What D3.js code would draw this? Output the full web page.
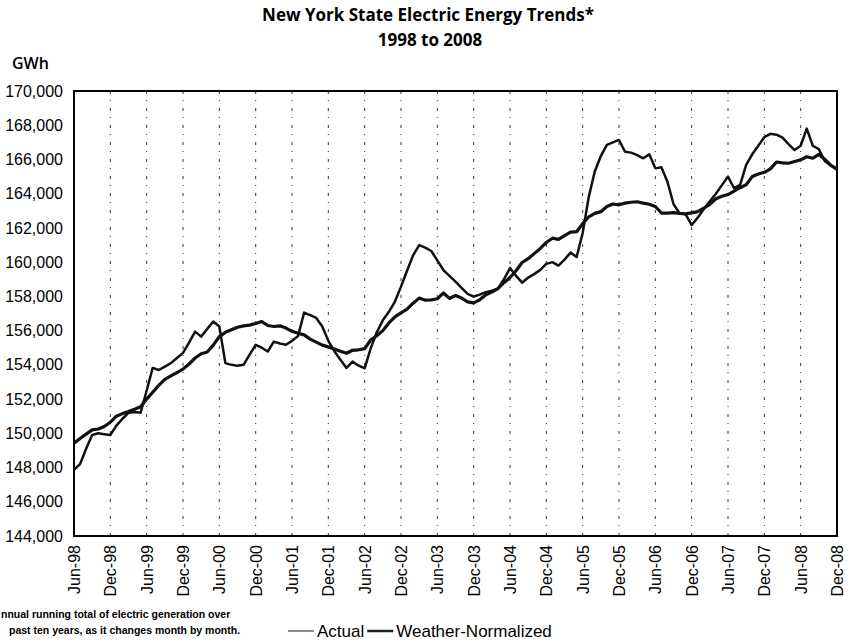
<!DOCTYPE html>
<html lang="en">
<head>
<meta charset="utf-8">
<title>NY State Electric Energy Trends</title>
<script src="https://d3js.org/d3.v7.min.js"></script>
<style>
  body { margin: 0; background: #fff; }
  svg text { font-family: "Liberation Sans", Arial, sans-serif; fill: #000; }
  .title { font-family: "Open Sans", sans-serif; font-weight: 700; font-size: 17px; }
</style>
</head>
<body>
<script>
// chart data (GWh, 12-month running total), monthly Jun-98 .. Dec-08
var actual = [
  147870, 148200, 149100, 149900, 150000, 149950, 149900, 150450, 150850, 151200, 151250, 151200,
  152500, 153820, 153700, 153900, 154100, 154400, 154700, 155300, 155940, 155650, 156100, 156530,
  156240, 154100, 154000, 153950, 154000, 154600, 155170, 155000, 154780, 155360, 155250, 155170,
  155400, 155690, 157050, 156900, 156740, 156240, 155400, 154800, 154300, 153820, 154190, 153950,
  153800, 154970, 155900, 156600, 157100, 157700, 158570, 159500, 160400, 161000, 160850, 160650,
  160100, 159540, 159200, 158860, 158500, 158150, 157990, 158100, 158250, 158330, 158450, 159000,
  159650, 159200, 158800, 159100, 159300, 159550, 159900, 160000, 159800, 160150, 160560, 160300,
  161700, 163800, 165300, 166200, 166850, 167000, 167140, 166450, 166400, 166250, 166070, 166300,
  165480, 165540, 164700, 163400, 162850, 162800, 162170, 162600, 163100, 163550, 164000, 164500,
  165000, 164320, 164510, 165680, 166300, 166800, 167300, 167500, 167450, 167270, 166900, 166550,
  166800, 167800, 166800, 166600, 165900, 165650, 165400
];
var weatherNormalized = [
  149420, 149700, 149950, 150200, 150250, 150400, 150650, 151000, 151150, 151270, 151400, 151550,
  152000, 152400, 152800, 153150, 153350, 153550, 153750, 154050, 154400, 154650, 154750, 155150,
  155650, 155900, 156050, 156200, 156280, 156320, 156420, 156530, 156300, 156240, 156280, 156150,
  155960, 155850, 155750, 155500, 155330, 155150, 155050, 154930, 154800, 154680, 154850, 154880,
  154950, 155450, 155700, 156000, 156450, 156800, 157040, 157250, 157600, 157900, 157780, 157800,
  157860, 158200, 157880, 158050, 157900, 157680, 157620, 157800, 158100, 158250, 158450, 158800,
  159100, 159500, 159980, 160200, 160500, 160800, 161150, 161400, 161330, 161550, 161750, 161780,
  162250, 162650, 162850, 162950, 163250, 163400, 163350, 163450, 163500, 163530, 163450, 163380,
  163250, 162870, 162870, 162890, 162850, 162820, 162880, 162950, 163150, 163380, 163700, 163850,
  163950, 164150, 164350, 164520, 165000, 165150, 165250, 165450, 165850, 165800, 165780, 165880,
  165980, 166160, 166070, 166300, 166000, 165650, 165430
];
// x-axis labels, one every 6 months starting at the first month
var tickLabels = ["Jun-98","Dec-98","Jun-99","Dec-99","Jun-00","Dec-00","Jun-01","Dec-01",
  "Jun-02","Dec-02","Jun-03","Dec-03","Jun-04","Dec-04","Jun-05","Dec-05","Jun-06","Dec-06",
  "Jun-07","Dec-07","Jun-08","Dec-08"];
var yTicks = [144000,146000,148000,150000,152000,154000,156000,158000,160000,162000,164000,166000,168000,170000];
var seriesNames = ["Actual", "Weather-Normalized"];
// footnote as it shows in the scan (its left edge is cut off by the page)
var footLines = ["nnual running total of electric generation over",
  "past ten years, as it changes month by month."];

var w = 851, h = 644;
var margin = {top: 91, right: 14, bottom: 108, left: 74};
var iw = w - margin.left - margin.right;
var ih = h - margin.top - margin.bottom;

var svg = d3.select("body").append("svg")
  .attr("width", w)
  .attr("height", h);

// title
svg.append("text").attr("class", "title")
  .attr("x", 428).attr("y", 21).attr("text-anchor", "middle")
  .text("New York State Electric Energy Trends*");
svg.append("text").attr("class", "title")
  .attr("x", 430).attr("y", 46).attr("text-anchor", "middle")
  .text("1998 to 2008");
svg.append("text")
  .attr("x", 12).attr("y", 69)
  .style("font-family", "'Open Sans', sans-serif")
  .style("font-weight", 600).style("font-size", "16px")
  .text("GWh");

var g = svg.append("g").attr("transform", "translate(" + margin.left + "," + margin.top + ")");

var x = d3.scaleLinear().domain([0, actual.length - 1]).range([0, iw]);
var y = d3.scaleLinear().domain([144000, 170000]).range([ih, 0]);

// broken vertical grid at each label month
g.append("g").selectAll("line")
  .data(tickLabels.slice(1, -1))
  .enter().append("line")
  .attr("x1", function(d, i) { return x((i + 1) * 6); })
  .attr("x2", function(d, i) { return x((i + 1) * 6); })
  .attr("y1", 0).attr("y2", ih)
  .attr("stroke", "#333")
  .attr("stroke-width", 1)
  .attr("stroke-dasharray", "3,6,1,7");

// y axis
var yAxis = g.append("g")
  .call(d3.axisLeft(y).tickValues(yTicks).tickSize(0).tickPadding(11).tickFormat(d3.format(",")));
yAxis.select(".domain").remove();
yAxis.selectAll("text").style("font-size", "16px");

// x axis
var xAxis = g.append("g")
  .attr("transform", "translate(0," + ih + ")")
  .call(d3.axisBottom(x)
    .tickValues(d3.range(tickLabels.length).map(function(i) { return i * 6; }))
    .tickSize(0)
    .tickFormat(function(d) { return tickLabels[d / 6]; }));
xAxis.select(".domain").remove();
xAxis.selectAll("text")
  .style("font-size", "16px")
  .attr("transform", "rotate(-90)")
  .attr("text-anchor", "end")
  .attr("x", -9).attr("y", 0).attr("dy", "0.35em");

// plot frame
g.append("rect")
  .attr("width", iw).attr("height", ih)
  .attr("fill", "none").attr("stroke", "#000").attr("stroke-width", 2);

var line = d3.line()
  .x(function(d, i) { return x(i); })
  .y(function(d) { return y(d); });

g.append("path").datum(weatherNormalized)
  .attr("d", line).attr("fill", "none")
  .attr("stroke", "#111").attr("stroke-width", 3.2).attr("stroke-linejoin", "round");
g.append("path").datum(actual)
  .attr("d", line).attr("fill", "none")
  .attr("stroke", "#111").attr("stroke-width", 2.5).attr("stroke-linejoin", "round");

// footnote
var foot = svg.append("g")
  .style("font-size", "10.5px").style("font-weight", "bold");
foot.append("text").attr("x", 1).attr("y", 618).text(footLines[0]);
foot.append("text").attr("x", 9).attr("y", 634).text(footLines[1]);

// legend
var leg = svg.append("g").attr("transform", "translate(288,631)");
var lx = 0;
seriesNames.forEach(function(name, i) {
  leg.append("line")
    .attr("x1", lx).attr("x2", lx + 26).attr("y1", 0).attr("y2", 0)
    .attr("stroke", i === 0 ? "#666" : "#222")
    .attr("stroke-width", i === 0 ? 1.5 : 2.5);
  var t = leg.append("text").attr("x", lx + 29).attr("y", 6)
    .style("font-size", "17px").text(name);
  lx += 29 + t.node().getComputedTextLength() + 3;
});
</script>
</body>
</html>
